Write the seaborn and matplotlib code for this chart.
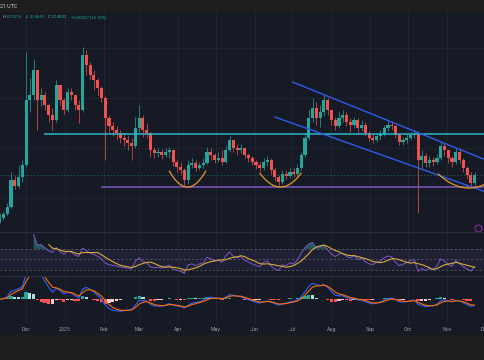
import numpy as np
import pandas as pd
import matplotlib
matplotlib.use("Agg")
import matplotlib.pyplot as plt
import matplotlib.dates as mdates
from matplotlib.lines import Line2D
from matplotlib.patches import Rectangle
import seaborn as sns

# ------------------------------------------------------------
# DATA  (3-day candles from 2024-11-10, prices in units of 0.001)

start_date = "2024-11-10"
first_open_k = 101

close_k = [105, 109, 116, 143, 137, 146, 158, 223, 228, 253,
           223, 228, 218, 208, 203, 238, 223, 213, 231, 228,
           218, 213, 268, 258, 248, 243, 235, 225, 205, 197,
           193, 190, 185, 183, 180, 177, 195, 205, 193, 190,
           173, 170, 171, 168, 171, 173, 161, 156, 153, 143,
           158, 160, 155, 158, 160, 171, 168, 163, 165, 161,
           173, 183, 175, 173, 175, 168, 165, 161, 158, 155,
           161, 163, 153, 146, 141, 149, 147, 151, 149, 155,
           168, 185, 205, 215, 205, 211, 223, 213, 203, 197,
           205, 208, 201, 198, 203, 195, 198, 190, 185, 183,
           187, 189, 195, 198, 197, 188, 181, 183, 185, 188,
           189, 163, 167, 160, 163, 161, 165, 177, 173, 165,
           161, 171, 163, 155, 148, 140, 148]

high_k = [110, 112, 120, 151, 147, 158, 163, 271, 245, 264,
          253, 235, 231, 219, 215, 243, 238, 225, 235, 235,
          228, 223, 276, 273, 261, 253, 245, 237, 227, 208,
          201, 197, 193, 190, 188, 185, 206, 218, 208, 200,
          191, 176, 175, 174, 175, 176, 173, 163, 161, 155,
          163, 165, 163, 161, 165, 176, 175, 170, 171, 173,
          177, 187, 183, 179, 179, 173, 170, 167, 163, 161,
          165, 167, 165, 155, 148, 153, 153, 155, 155, 159,
          171, 190, 213, 225, 221, 218, 228, 225, 213, 206,
          211, 213, 211, 205, 206, 205, 203, 201, 192, 189,
          190, 193, 198, 203, 202, 198, 190, 186, 189, 191,
          193, 192, 173, 170, 167, 166, 169, 181, 180, 173,
          167, 175, 175, 165, 157, 151, 151]

low_k = [100, 103, 108, 115, 134, 135, 141, 156, 211, 223,
         193, 217, 213, 201, 193, 201, 218, 209, 211, 223,
         213, 200, 211, 248, 243, 233, 228, 221, 163, 190,
         187, 183, 180, 177, 173, 163, 175, 191, 186, 185,
         166, 165, 166, 164, 166, 165, 157, 151, 149, 136,
         139, 155, 152, 153, 155, 159, 163, 160, 161, 158,
         160, 171, 171, 168, 170, 165, 161, 158, 154, 152,
         153, 157, 149, 142, 136, 139, 144, 145, 146, 147,
         153, 166, 183, 201, 198, 196, 207, 208, 198, 193,
         195, 201, 197, 191, 195, 190, 192, 187, 182, 180,
         181, 183, 187, 192, 193, 185, 178, 178, 180, 183,
         185, 110, 155, 156, 156, 157, 159, 163, 167, 160,
         156, 159, 160, 151, 144, 136, 137]

month_dates = ["2024-12-01", "2025-01-01", "2025-02-01", "2025-03-01", "2025-04-01",
               "2025-05-01", "2025-06-01", "2025-07-01", "2025-08-01", "2025-09-01",
               "2025-10-01", "2025-11-01", "2025-12-01"]
month_labels = ["Dec", "2025", "Feb", "Mar", "Apr", "May", "Jun", "Jul", "Aug",
                "Sep", "Oct", "Nov", "Dec"]

# drawings
resistance_level = 0.189
resistance_from = "2024-12-15"
support_level = 0.136
support_from = "2025-01-30"
last_price = 0.148
channel_upper = [("2025-07-01", 0.241), ("2025-12-02", 0.163)]
channel_lower = [("2025-06-17", 0.206), ("2025-12-02", 0.131)]
cup_dates = [("2025-03-25", "2025-04-08", "2025-04-23"),
             ("2025-06-05", "2025-06-21", "2025-07-08"),
             ("2025-10-25", "2025-11-18", "2025-12-13")]
cup_rim = [0.152, 0.150, 0.149]
cup_base = [0.136, 0.136, 0.135]

header_labels = ["H", "L", "C", ""]
header_values = ["0.15216", "0.14631", "0.14832", "+0.00027 (+0.18%)"]
clock_text = "21 UTC"

rsi_len, rsi_ma_len = 9, 5
macd_fast, macd_slow, macd_sig = 4, 9, 3

# ------------------------------------------------------------
# STYLE

bg = "#161a25"
band = "#1e1e1e"
grid_c = "#21252f"
sep_c = "#2a2e39"
up_c = "#26a69a"
down_c = "#ef5350"

sns.set_theme(style="dark", rc={
    "axes.facecolor": bg, "figure.facecolor": bg, "axes.edgecolor": bg,
    "grid.color": grid_c, "grid.linewidth": 0.6,
    "xtick.color": "#9598a1", "text.color": "#d1d4dc",
})
plt.rcParams["font.family"] = ["Roboto", "DejaVu Sans"]

# ------------------------------------------------------------
# FRAME

df = pd.DataFrame({
    "date": pd.date_range(start_date, periods=len(close_k), freq="3D"),
    "close": np.array(close_k) / 1000,
    "high": np.array(high_k) / 1000,
    "low": np.array(low_k) / 1000,
})
df["open"] = df["close"].shift(1).fillna(first_open_k / 1000)
df["high"] = df[["high", "open", "close"]].max(axis=1)
df["low"] = df[["low", "open", "close"]].min(axis=1)
df["x"] = mdates.date2num(df["date"])

# RSI (Wilder smoothing, hidden until one full window has passed)
delta = df["close"].diff()
gain = delta.clip(lower=0).ewm(alpha=1 / rsi_len, adjust=False).mean()
loss = (-delta.clip(upper=0)).ewm(alpha=1 / rsi_len, adjust=False).mean()
rsi = 100 - 100 / (1 + gain / loss)
rsi.iloc[:rsi_len] = np.nan
df["rsi"] = rsi
df["rsi_ma"] = df["rsi"].rolling(rsi_ma_len).mean()

# MACD
ema_f = df["close"].ewm(span=macd_fast, adjust=False).mean()
ema_s = df["close"].ewm(span=macd_slow, adjust=False).mean()
df["macd"] = ema_f - ema_s
df["signal"] = df["macd"].ewm(span=macd_sig, adjust=False).mean()
df["hist"] = df["macd"] - df["signal"]

# ------------------------------------------------------------
# FIGURE

W, H = 485, 360
fig = plt.figure(figsize=(W / 100, H / 100), dpi=100)

def px_rect(top, bottom):
    return [0, (H - bottom) / H, 1, (bottom - top) / H]

ax = fig.add_axes(px_rect(11, 232))
ax_rsi = fig.add_axes(px_rect(232, 276), sharex=ax)
ax_macd = fig.add_axes(px_rect(276, 324), sharex=ax)

fig.add_artist(Rectangle((0, (H - 11) / H), 1, 11 / H, transform=fig.transFigure,
                         color=band, zorder=5))
fig.add_artist(Rectangle((0, 0), 1, 25 / H, transform=fig.transFigure,
                         color=band, zorder=5))
for yp in (232, 276):
    fig.add_artist(Line2D([0, 1], [(H - yp) / H] * 2, transform=fig.transFigure,
                          color=sep_c, lw=1, zorder=4))

tick_x = mdates.date2num(pd.to_datetime(month_dates))
x_left = mdates.date2num(pd.Timestamp("2024-11-10 06:00"))
x_right = mdates.date2num(pd.Timestamp("2025-12-01 06:00"))

for a in (ax, ax_rsi, ax_macd):
    for s in a.spines.values():
        s.set_visible(False)
    a.set_xticks(tick_x)
    a.grid(True, axis="x", color=grid_c, lw=0.6)
    a.tick_params(length=0, labelleft=False, labelbottom=False)
    a.set_xlim(x_left, x_right)

# ---- candles
col = np.where(df["close"] >= df["open"], up_c, down_c)
body_lo = df[["open", "close"]].min(axis=1)
body_h = (df["close"] - df["open"]).abs().clip(lower=0.0008)
ax.vlines(df["x"], df["low"], df["high"], colors=col, lw=0.5, zorder=3)
ax.bar(df["x"], body_h, bottom=body_lo, width=2.5, color=col, lw=0, zorder=3)

ax.set_ylim(0.091, 0.312)
ax.set_yticks([0.125, 0.175, 0.225, 0.275])
ax.grid(True, axis="y", color=grid_c, lw=0.6)

# ---- drawings
ax.axhline(last_price, color=up_c, lw=0.6, ls=(0, (2, 2)), alpha=0.45, zorder=2)
ax.hlines(resistance_level, mdates.date2num(pd.Timestamp(resistance_from)), x_right,
          color="#2ab7ca", lw=1.1, zorder=4)
ax.hlines(support_level, mdates.date2num(pd.Timestamp(support_from)), x_right,
          color="#7e57c2", lw=1.1, zorder=4)
for line in (channel_upper, channel_lower):
    xs = mdates.date2num(pd.to_datetime([p[0] for p in line]))
    ax.plot(xs, [p[1] for p in line], color="#2e5bea", lw=1.0, zorder=4)

for (d0, d1, d2), rim, base in zip(cup_dates, cup_rim, cup_base):
    cx = mdates.date2num(pd.to_datetime([d0, d1, d2]))
    coef = np.polyfit(cx, [rim, base, rim], 2)
    xx = np.linspace(cx[0], cx[2], 60)
    ax.plot(xx, np.polyval(coef, xx), color="#e39a1c", lw=0.9, zorder=4)

ax.plot(478 / W, 4 / 221, "o", ms=5, mfc="none", mec="#9c27b0", mew=0.7,
        transform=ax.transAxes, clip_on=False, zorder=6)

# ---- RSI panel
ax_rsi.axhspan(30, 70, color="#7e57c2", alpha=0.1, lw=0)
for lvl in (70, 50, 30):
    ax_rsi.axhline(lvl, color="#787b86", lw=0.5, ls=(0, (3, 3)), alpha=0.8)
rsi_ok = df["rsi"].notna()
ax_rsi.fill_between(df["x"], 70, df["rsi"], where=rsi_ok & (df["rsi"] > 70),
                    interpolate=True, color=up_c, alpha=0.45, lw=0)
ax_rsi.fill_between(df["x"], 30, df["rsi"], where=rsi_ok & (df["rsi"] < 30),
                    interpolate=True, color=down_c, alpha=0.35, lw=0)
sns.lineplot(data=df, x="x", y="rsi", ax=ax_rsi, color="#7e57c2", lw=0.7)
sns.lineplot(data=df, x="x", y="rsi_ma", ax=ax_rsi, color="#d4ad3a", lw=0.8)
ax_rsi.set_ylim(18.5, 102)
ax_rsi.set(xlabel="", ylabel="")

# ---- MACD panel
h = df["hist"]
prev = h.shift(1).fillna(0)
hcol = np.where(h >= 0, np.where(h >= prev, "#26a69a", "#b2dfdb"),
                np.where(h < prev, "#ff5252", "#ffcdd2"))
ax_macd.bar(df["x"], h, width=2.6, color=hcol, lw=0)
sns.lineplot(data=df, x="x", y="macd", ax=ax_macd, color="#2962ff", lw=0.8)
sns.lineplot(data=df, x="x", y="signal", ax=ax_macd, color="#ff6d00", lw=0.8)
peak = df["macd"].iloc[80:].max()
ax_macd.set_ylim(-1.55 * peak, 1.45 * peak)
ax_macd.set(xlabel="", ylabel="")
ax_macd.set_xticks(tick_x, month_labels)
ax_macd.tick_params(labelbottom=True, labelsize=3.8, pad=2.5, colors="#9598a1")
ax_macd.set_xlim(x_left, x_right)

# ---- header texts
fig.text(0.0, 1 - 6 / H, clock_text, fontsize=3.8, color="#d1d4dc", va="center",
         zorder=6)
label_px = [3, 26, 48, 71]
for lab, val, xp in zip(header_labels, header_values, label_px):
    if lab:
        fig.text(xp / W, 1 - 17 / H, lab, fontsize=3.1, color="#b2b5be", va="center")
        xp += 3.6
    fig.text(xp / W, 1 - 17 / H, val, fontsize=3.1, color=up_c, va="center")

fig.savefig("out.png", dpi=100, facecolor=bg)
